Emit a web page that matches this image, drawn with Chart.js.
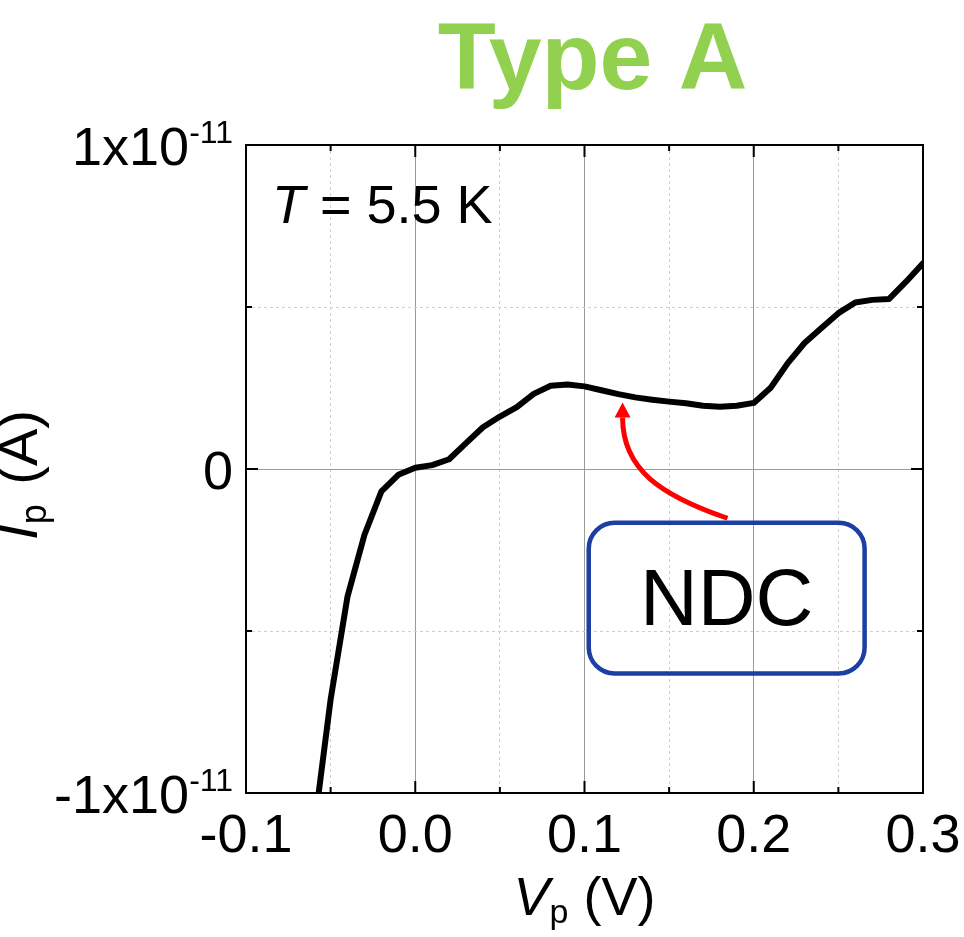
<!DOCTYPE html>
<html>
<head>
<meta charset="utf-8">
<script src="https://cdn.jsdelivr.net/npm/chart.js@4.4.0/dist/chart.umd.min.js"></script>
<style>
  html, body { margin: 0; padding: 0; background: #fff; }
  canvas { display: block; }
</style>
</head>
<body>
<canvas id="ipChart" width="964" height="937"></canvas>
<script>
// probe voltage (V) and probe current (A)
const voltage = [-0.06, -0.05, -0.04, -0.03, -0.02, -0.01, 0.00, 0.01, 0.02, 0.03,
                 0.04, 0.05, 0.06, 0.07, 0.08, 0.09, 0.10, 0.11, 0.12, 0.13,
                 0.14, 0.15, 0.16, 0.17, 0.18, 0.19, 0.20, 0.21, 0.22, 0.23,
                 0.24, 0.25, 0.26, 0.27, 0.28, 0.29, 0.30];
const current = [-1.12e-11, -0.711e-11, -0.393e-11, -0.203e-11, -0.069e-11, -0.018e-11, 0.004e-11, 0.012e-11, 0.030e-11, 0.080e-11,
                 0.129e-11, 0.162e-11, 0.191e-11, 0.232e-11, 0.257e-11, 0.261e-11, 0.255e-11, 0.243e-11, 0.231e-11, 0.221e-11,
                 0.214e-11, 0.208e-11, 0.203e-11, 0.195e-11, 0.192e-11, 0.195e-11, 0.204e-11, 0.251e-11, 0.326e-11, 0.389e-11,
                 0.435e-11, 0.481e-11, 0.514e-11, 0.522e-11, 0.525e-11, 0.578e-11, 0.635e-11];

const xTickValues = [-0.1, 0.0, 0.1, 0.2, 0.3];
const xTickLabels = ["-0.1", "0.0", "0.1", "0.2", "0.3"];
const yTickValues = [-1e-11, 0, 1e-11];
const yTickLabels = ["-1x10", "0", "1x10"];
const yTickExps = ["-11", "", "-11"];

const FONT = '"Liberation Sans", Arial, Helvetica, sans-serif';

function isMajor(v, minorStep) {
  return Math.round(v / minorStep) % 2 === 0;
}

// grid: solid grey at major ticks, dotted light grey at minor ones
function gridColor(c, minorStep) {
  if (!c.tick) return '#999';
  return isMajor(c.tick.value, minorStep) ? '#9a9a9a' : '#cfcfcf';
}
function gridDash(c, minorStep) {
  if (!c.tick) return [];
  return isMajor(c.tick.value, minorStep) ? [] : [3, 3];
}

// box around the plot + inward ticks on all four sides
const paperFrame = {
  id: 'paperFrame',
  afterDatasetsDraw(chart) {
    const {ctx, chartArea: a, scales: {x, y}} = chart;
    ctx.save();
    ctx.strokeStyle = '#000';
    ctx.lineWidth = 2;
    ctx.strokeRect(a.left, a.top, a.right - a.left, a.bottom - a.top);
    ctx.beginPath();
    x.ticks.forEach(t => {
      const px = x.getPixelForValue(t.value);
      const len = isMajor(t.value, 0.05) ? 12 : 6;
      ctx.moveTo(px, a.bottom); ctx.lineTo(px, a.bottom - len);
      ctx.moveTo(px, a.top); ctx.lineTo(px, a.top + len);
    });
    y.ticks.forEach(t => {
      const py = y.getPixelForValue(t.value);
      const len = isMajor(t.value, 5e-12) ? 12 : 6;
      ctx.moveTo(a.left, py); ctx.lineTo(a.left + len, py);
      ctx.moveTo(a.right, py); ctx.lineTo(a.right - len, py);
    });
    ctx.stroke();
    ctx.restore();
  }
};

// draws "main" + subscript/superscript pieces left to right, returns width
function pieces(ctx, parts, x0, y0, measureOnly) {
  let x = x0;
  parts.forEach(p => {
    ctx.font = p.font;
    if (!measureOnly) ctx.fillText(p.text, x, y0 + (p.dy || 0));
    x += ctx.measureText(p.text).width + (p.gap || 0);
  });
  return x - x0;
}

const paperText = {
  id: 'paperText',
  afterDraw(chart) {
    const {ctx, chartArea: a, scales: {x, y}} = chart;
    ctx.save();
    ctx.fillStyle = '#000';
    ctx.textBaseline = 'alphabetic';

    // x tick labels
    ctx.font = '54px ' + FONT;
    ctx.textAlign = 'center';
    xTickValues.forEach((v, i) => {
      ctx.fillText(xTickLabels[i], x.getPixelForValue(v), a.bottom + 59);
    });

    // y tick labels with exponent
    ctx.textAlign = 'left';
    yTickValues.forEach((v, i) => {
      const py = y.getPixelForValue(v);
      const parts = [
        {text: yTickLabels[i], font: '54px ' + FONT, dy: 20},
        {text: yTickExps[i], font: '32px ' + FONT, dy: -2}
      ];
      const w = pieces(ctx, parts, 0, 0, true);
      pieces(ctx, parts, a.left - 13 - w, py, false);
    });

    // axis titles
    const midX = (a.left + a.right) / 2;
    const midY = (a.top + a.bottom) / 2;
    const xTitle = [
      {text: 'V', font: 'italic 54px ' + FONT},
      {text: 'p', font: '34px ' + FONT, dy: 8},
      {text: ' (V)', font: '54px ' + FONT}
    ];
    const wx = pieces(ctx, xTitle, 0, 0, true);
    pieces(ctx, xTitle, midX - wx / 2, a.bottom + 122, false);

    const yTitle = [
      {text: 'I', font: 'italic 56px ' + FONT},
      {text: 'p', font: '36px ' + FONT, dy: 9, gap: 4},
      {text: ' (A)', font: '56px ' + FONT}
    ];
    const wy = pieces(ctx, yTitle, 0, 0, true);
    ctx.save();
    ctx.translate(37, midY + 6);
    ctx.rotate(-Math.PI / 2);
    pieces(ctx, yTitle, -wy / 2, 0, false);
    ctx.restore();

    // temperature
    pieces(ctx, [
      {text: 'T', font: 'italic 54px ' + FONT},
      {text: ' = 5.5 K', font: '54px ' + FONT}
    ], a.left + 26, a.top + 78, false);

    // title
    ctx.fillStyle = '#92d050';
    ctx.font = 'bold 95px ' + FONT;
    ctx.textAlign = 'center';
    ctx.fillText('Type A', midX + 8, 89);

    // NDC box + arrow, anchored in data coordinates
    const bx1 = x.getPixelForValue(0.1025), bx2 = x.getPixelForValue(0.2655);
    const by1 = y.getPixelForValue(-0.166e-11), by2 = y.getPixelForValue(-0.631e-11);
    ctx.strokeStyle = '#1d3fa3';
    ctx.lineWidth = 4.5;
    ctx.beginPath();
    ctx.roundRect(bx1, by1, bx2 - bx1, by2 - by1, 26);
    ctx.stroke();
    ctx.fillStyle = '#000';
    ctx.font = '80px ' + FONT;
    ctx.fillText('NDC', (bx1 + bx2) / 2, y.getPixelForValue(-0.48e-11));

    const tipX = x.getPixelForValue(0.1225), tipY = y.getPixelForValue(0.205e-11);
    const tailX = x.getPixelForValue(0.1845), tailY = y.getPixelForValue(-0.152e-11);
    const baseY = tipY + 15;
    ctx.strokeStyle = '#ff0000';
    ctx.fillStyle = '#ff0000';
    ctx.lineWidth = 5;
    ctx.beginPath();
    ctx.moveTo(tailX, tailY);
    ctx.bezierCurveTo(tailX - 67, tailY - 23, tipX, baseY + 52, tipX, baseY);
    ctx.stroke();
    ctx.beginPath();
    ctx.moveTo(tipX, tipY);
    ctx.lineTo(tipX - 8, baseY);
    ctx.lineTo(tipX + 8, baseY);
    ctx.closePath();
    ctx.fill();

    ctx.restore();
  }
};

new Chart(document.getElementById('ipChart'), {
  type: 'line',
  data: {
    datasets: [{
      data: voltage.map((v, i) => ({x: v, y: current[i]})),
      borderColor: '#000',
      borderWidth: 6,
      pointRadius: 0,
      tension: 0,
      borderJoinStyle: 'round',
      borderCapStyle: 'round',
      clip: 0
    }]
  },
  options: {
    responsive: false,
    animation: false,
    devicePixelRatio: 1,
    layout: { padding: { left: 246, top: 145, right: 41, bottom: 144 } },
    plugins: { legend: { display: false }, tooltip: { enabled: false } },
    scales: {
      x: {
        type: 'linear', min: -0.1, max: 0.3,
        ticks: { display: false, stepSize: 0.05 },
        grid: { drawTicks: false, lineWidth: 1, color: c => gridColor(c, 0.05) },
        border: { display: false, dash: c => gridDash(c, 0.05) }
      },
      y: {
        type: 'linear', min: -1e-11, max: 1e-11,
        ticks: { display: false, stepSize: 5e-12 },
        grid: { drawTicks: false, lineWidth: 1, color: c => gridColor(c, 5e-12) },
        border: { display: false, dash: c => gridDash(c, 5e-12) }
      }
    }
  },
  plugins: [paperFrame, paperText]
});
</script>
</body>
</html>
